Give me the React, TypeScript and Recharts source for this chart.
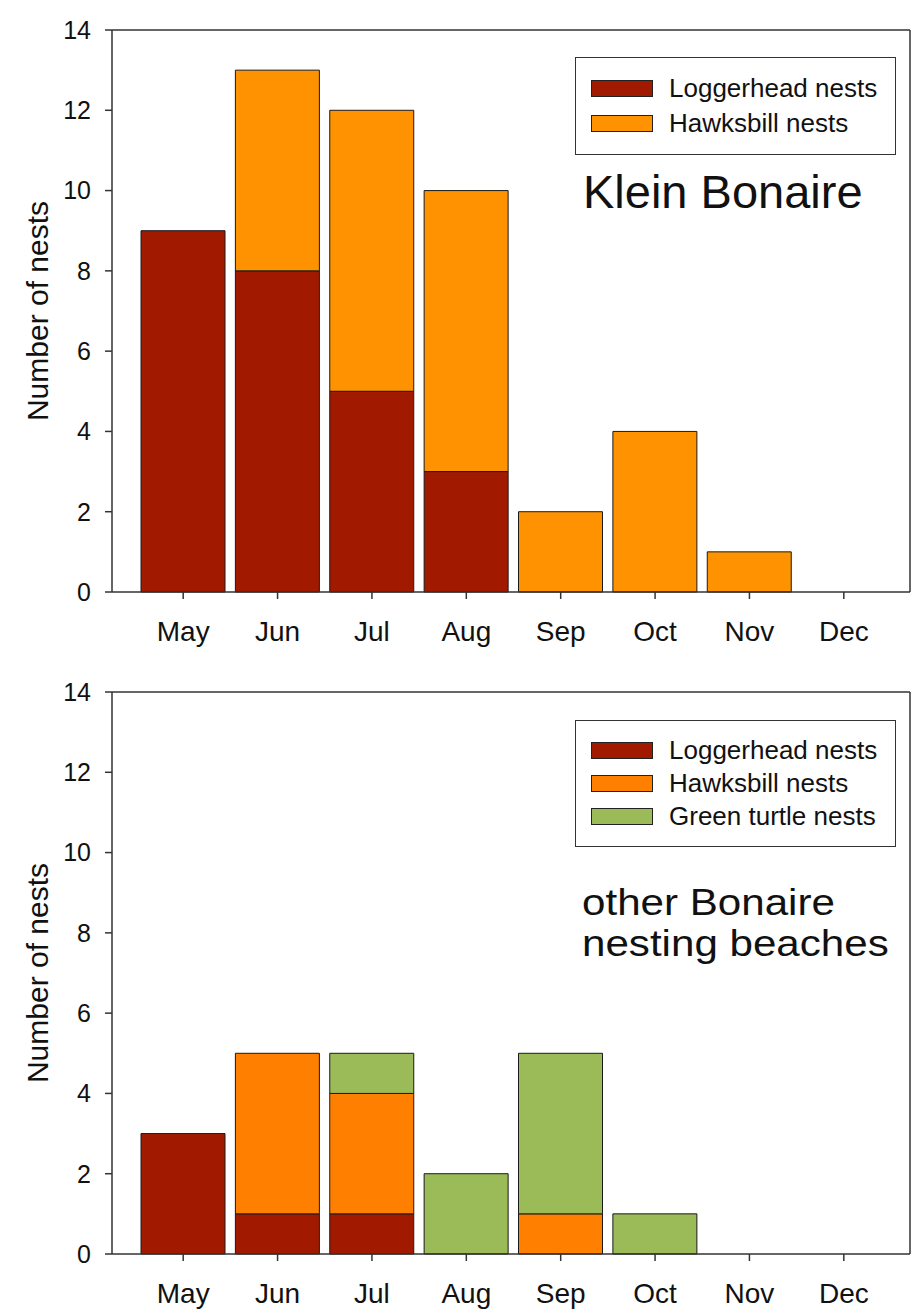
import { BarChart, Bar, XAxis, YAxis } from 'recharts';

const months = ['May', 'Jun', 'Jul', 'Aug', 'Sep', 'Oct', 'Nov', 'Dec'];

// Klein Bonaire
const kleinLoggerhead = [9, 8, 5, 3, 0, 0, 0, 0];
const kleinHawksbill = [0, 5, 7, 7, 2, 4, 1, 0];

// other Bonaire nesting beaches
const otherLoggerhead = [3, 1, 1, 0, 0, 0, 0, 0];
const otherHawksbill = [0, 4, 3, 0, 1, 0, 0, 0];
const otherGreen = [0, 0, 1, 2, 4, 1, 0, 0];

const yTicks = [0, 2, 4, 6, 8, 10, 12, 14];

const FONT = '"Liberation Sans", Arial, sans-serif';
const AXIS = '#333';

const kleinData = months.map((m, i) => ({
  month: m,
  loggerhead: kleinLoggerhead[i],
  hawksbill: kleinHawksbill[i],
}));

const otherData = months.map((m, i) => ({
  month: m,
  loggerhead: otherLoggerhead[i],
  hawksbill: otherHawksbill[i],
  green: otherGreen[i],
}));

type Series = { key: string; name: string; color: string };

const kleinSeries: Series[] = [
  { key: 'loggerhead', name: 'Loggerhead nests', color: '#a11a00' },
  { key: 'hawksbill', name: 'Hawksbill nests', color: '#ff9200' },
];

const otherSeries: Series[] = [
  { key: 'loggerhead', name: 'Loggerhead nests', color: '#a11a00' },
  { key: 'hawksbill', name: 'Hawksbill nests', color: '#ff7f00' },
  { key: 'green', name: 'Green turtle nests', color: '#9bbb59' },
];

const LegendBox = ({ series, rowHeight, top }: { series: Series[]; rowHeight: number; top: number }) => (
  <div
    style={{
      position: 'absolute',
      left: 575,
      top,
      width: 321,
      border: `1.5px solid ${AXIS}`,
      background: '#fff',
      boxSizing: 'border-box',
      padding: '13px 0 13px 15px',
      fontFamily: FONT,
    }}
  >
    {series.map((s) => (
      <div key={s.key} style={{ display: 'flex', alignItems: 'center', height: rowHeight }}>
        <div
          style={{
            width: 60,
            height: 15,
            background: s.color,
            border: '1px solid #222',
            marginRight: 16,
          }}
        />
        <span style={{ fontSize: 26, color: '#111', whiteSpace: 'nowrap' }}>{s.name}</span>
      </div>
    ))}
  </div>
);

const yLabel = (props: any) => {
  const { viewBox } = props;
  const cy = viewBox.y + viewBox.height / 2;
  return (
    <text
      x={0}
      y={0}
      transform={`translate(48, ${cy}) rotate(-90)`}
      textAnchor="middle"
      fontSize={30}
      fontFamily={FONT}
      fill="#111"
    >
      Number of nests
    </text>
  );
};

const NestPanel = ({
  data,
  series,
  height,
  marginTop,
  xAxisHeight,
}: {
  data: any[];
  series: Series[];
  height: number;
  marginTop: number;
  xAxisHeight: number;
}) => (
  <BarChart
    width={914}
    height={height}
    data={data}
    margin={{ top: marginTop, right: 3, left: 0, bottom: 0 }}
    barSize={84}
  >
    <XAxis
      dataKey="month"
      height={xAxisHeight}
      padding={{ left: 24, right: 19 }}
      stroke={AXIS}
      strokeWidth={1.5}
      tickSize={7}
      tickMargin={22}
      tick={{ fontSize: 28, fontFamily: FONT, fill: '#111' }}
    />
    <XAxis
      xAxisId="frame"
      orientation="top"
      dataKey="month"
      height={1}
      tick={false}
      tickLine={false}
      stroke={AXIS}
      strokeWidth={1.5}
    />
    <YAxis
      domain={[0, 14]}
      ticks={yTicks}
      width={112}
      stroke={AXIS}
      strokeWidth={1.5}
      tickSize={7}
      tickMargin={14}
      interval={0}
      tick={{ fontSize: 25, fontFamily: FONT, fill: '#111' }}
      label={yLabel}
    />
    <YAxis
      yAxisId="frame"
      orientation="right"
      width={1}
      domain={[0, 14]}
      tick={false}
      tickLine={false}
      stroke={AXIS}
      strokeWidth={1.5}
    />
    {series.map((s) => (
      <Bar
        key={s.key}
        dataKey={s.key}
        name={s.name}
        stackId="nests"
        fill={s.color}
        stroke="#1a1a1a"
        strokeWidth={1}
        isAnimationActive={false}
      />
    ))}
  </BarChart>
);

const titleStyle = {
  position: 'absolute' as const,
  left: 582,
  fontSize: 36,
  lineHeight: '36px',
  color: '#111',
  whiteSpace: 'nowrap' as const,
  transform: 'scaleX(1.17)',
  transformOrigin: 'left center',
};

export default function App() {
  return (
    <div
      style={{
        position: 'absolute',
        left: 0,
        top: 0,
        width: 914,
        height: 1312,
        background: '#fff',
        fontFamily: FONT,
      }}
    >
      <div style={{ position: 'absolute', left: 0, top: 0 }}>
        <NestPanel data={kleinData} series={kleinSeries} height={660} marginTop={29} xAxisHeight={68} />
        <LegendBox series={kleinSeries} rowHeight={35} top={57} />
        <div style={{ ...titleStyle, left: 583, top: 168, fontSize: 47, lineHeight: '47px', transform: 'none' }}>
          Klein Bonaire
        </div>
      </div>
      <div style={{ position: 'absolute', left: 0, top: 660 }}>
        <NestPanel data={otherData} series={otherSeries} height={652} marginTop={31} xAxisHeight={58} />
        <LegendBox series={otherSeries} rowHeight={33} top={60} />
        <div style={{ ...titleStyle, top: 225 }}>other Bonaire</div>
        <div style={{ ...titleStyle, top: 266 }}>nesting beaches</div>
      </div>
    </div>
  );
}
